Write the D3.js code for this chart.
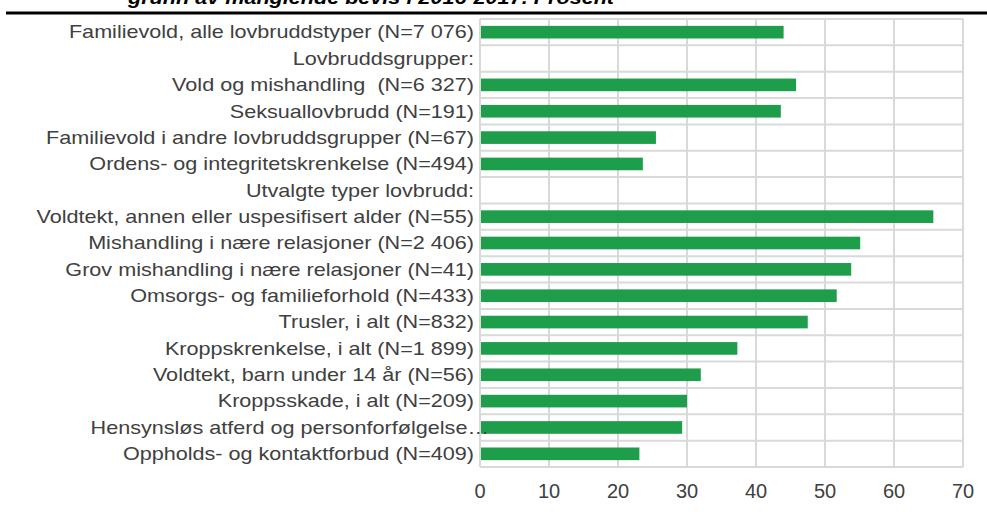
<!DOCTYPE html>
<html>
<head>
<meta charset="utf-8">
<script src="https://cdn.jsdelivr.net/npm/d3@7"></script>
<style>
  body { margin: 0; background: #fff; }
  svg { display: block; font-family: "Liberation Sans", Arial, sans-serif; }
</style>
</head>
<body>
<svg></svg>
<script>
// data
var categories = [
  'Familievold, alle lovbruddstyper (N=7 076)',
  'Lovbruddsgrupper:',
  'Vold og mishandling  (N=6 327)',
  'Seksuallovbrudd (N=191)',
  'Familievold i andre lovbruddsgrupper (N=67)',
  'Ordens- og integritetskrenkelse (N=494)',
  'Utvalgte typer lovbrudd:',
  'Voldtekt, annen eller uspesifisert alder (N=55)',
  'Mishandling i nære relasjoner (N=2 406)',
  'Grov mishandling i nære relasjoner (N=41)',
  'Omsorgs- og familieforhold (N=433)',
  'Trusler, i alt (N=832)',
  'Kroppskrenkelse, i alt (N=1 899)',
  'Voldtekt, barn under 14 år (N=56)',
  'Kroppsskade, i alt (N=209)',
  'Hensynsløs atferd og personforfølgelse…',
  'Oppholds- og kontaktforbud (N=409)'
]
var values = [44.0, null, 45.8, 43.6, 25.5, 23.6, null, 65.7, 55.1, 53.8, 51.7, 47.5, 37.3, 32.0, 30.0, 29.3, 23.1]
var xTicks = [0, 10, 20, 30, 40, 50, 60, 70]
var title = 'grunn av manglende bevis i 2016-2017. Prosent'

var svgWidth = 987, svgHeight = 512
var plotLeft = 480, plotRight = 963, plotTop = 19, plotBottom = 467
var grid = '#d9d9d9', textColor = '#404040'
var stretch = 1.2   // the reference text is drawn a bit wide

var svg = d3.select('svg')
    .attr('width', svgWidth)
    .attr('height', svgHeight)

var x = d3.scaleLinear()
    .domain([0, 70])
    .range([plotLeft, plotRight])

var y = d3.scaleBand()
    .domain(categories)
    .range([plotTop, plotBottom])
    .paddingInner(0.52)
    .paddingOuter(0.26)

// cut-off title and rule
svg.append('text')
    .attr('transform', 'translate(128,4) scale(' + stretch + ',1)')
    .style('font-size', '18px')
    .style('font-weight', 'bold')
    .style('font-style', 'italic')
    .style('fill', '#000')
    .text(title)

svg.append('line')
    .attr('x1', 6).attr('x2', svgWidth)
    .attr('y1', 13).attr('y2', 13)
    .style('stroke', '#000')
    .style('stroke-width', 3)

// horizontal gridlines between rows
var rowEdges = d3.range(categories.length + 1).map(function(i) { return plotTop + i * (plotBottom - plotTop) / categories.length })
svg.selectAll('.hgrid')
    .data(rowEdges)
    .enter()
    .append('line')
    .attr('x1', plotLeft).attr('x2', plotRight)
    .attr('y1', function(d) { return d })
    .attr('y2', function(d) { return d })
    .style('stroke', grid)
    .style('stroke-width', 2)

// vertical gridlines
svg.selectAll('.vgrid')
    .data(xTicks)
    .enter()
    .append('line')
    .attr('x1', function(d) { return x(d) })
    .attr('x2', function(d) { return x(d) })
    .attr('y1', plotTop).attr('y2', plotBottom)
    .style('stroke', grid)
    .style('stroke-width', 2)

// bars
svg.selectAll('rect')
    .data(categories.filter(function(c, i) { return values[i] != null }))
    .enter()
    .append('rect')
    .attr('x', x(0) + 1)
    .attr('y', function(d) { return y(d) })
    .attr('height', y.bandwidth())
    .attr('width', function(d) { return x(values[categories.indexOf(d)]) - x(0) - 1 })
    .style('fill', '#1e9e4b')

// category labels
svg.selectAll('.cat')
    .data(categories)
    .enter()
    .append('text')
    .attr('transform', function(d) {
        var lx = d.slice(-1) === '…' ? 489 : 474
        return 'translate(' + lx + ',' + (y(d) + y.bandwidth() / 2) + ') scale(' + stretch + ',1)'
    })
    .attr('dy', '0.35em')
    .attr('text-anchor', 'end')
    .style('font-size', '18px')
    .style('white-space', 'pre')
    .style('fill', textColor)
    .text(function(d) { return d })

// x axis labels
svg.selectAll('.tick')
    .data(xTicks)
    .enter()
    .append('text')
    .attr('x', function(d) { return x(d) })
    .attr('y', 498)
    .attr('text-anchor', 'middle')
    .style('font-size', '20px')
    .style('fill', textColor)
    .text(function(d) { return d })
</script>
</body>
</html>
